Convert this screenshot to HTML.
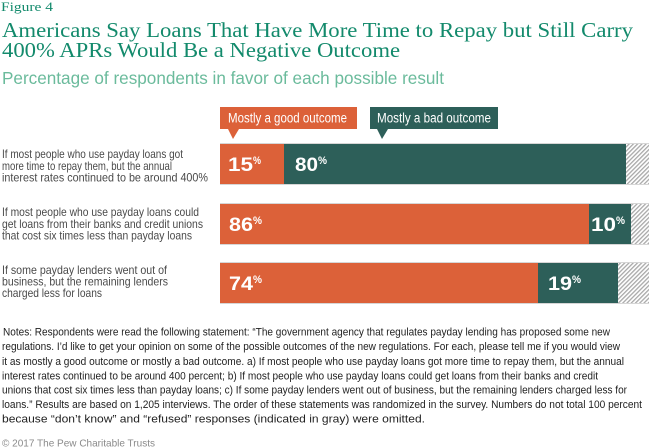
<!DOCTYPE html>
<html>
<head>
<meta charset="utf-8">
<style>
html,body{margin:0;padding:0;background:#fff;}
svg{display:block;}
.lab{font-family:"Liberation Sans Narrow","Liberation Sans",sans-serif;font-size:11.8px;fill:#4a4a4a;}
.note{font-family:"Liberation Sans Narrow","Liberation Sans",sans-serif;font-size:11.2px;fill:#222;}
.num{font-family:"Liberation Sans",sans-serif;font-weight:bold;font-size:19.5px;fill:#fff;}
.pct{font-family:"Liberation Sans",sans-serif;font-weight:bold;font-size:11px;fill:#fff;}
.leg{font-family:"Liberation Sans Narrow","Liberation Sans",sans-serif;font-size:13.5px;fill:#fff;}
</style>
</head>
<body>
<svg width="650" height="448" viewBox="0 0 650 448" xmlns="http://www.w3.org/2000/svg">
<defs>
<pattern id="hatch" patternUnits="userSpaceOnUse" width="3" height="3" patternTransform="rotate(-45)">
<rect width="3" height="3" fill="#fff"/>
<rect width="3" height="1.3" fill="#a8a8a8"/>
</pattern>
</defs>

<!-- Header -->
<text x="1" y="11" font-family="Liberation Serif, serif" font-size="13" fill="#138a6c" textLength="52" lengthAdjust="spacingAndGlyphs">Figure 4</text>
<text x="2" y="37" font-family="Liberation Serif, serif" font-size="21" fill="#138a6c" textLength="631" lengthAdjust="spacingAndGlyphs">Americans Say Loans That Have More Time to Repay but Still Carry</text>
<text x="2" y="57" font-family="Liberation Serif, serif" font-size="21" fill="#138a6c" textLength="398" lengthAdjust="spacingAndGlyphs">400% APRs Would Be a Negative Outcome</text>
<text x="2" y="84" font-family="Liberation Sans Narrow, Liberation Sans, sans-serif" font-size="17.5" fill="#6bbb9c" textLength="442" lengthAdjust="spacingAndGlyphs">Percentage of respondents in favor of each possible result</text>

<!-- Legend -->
<rect x="220" y="107" width="137" height="22" fill="#dc6139"/>
<polygon points="228,129 239,129 233,139" fill="#dc6139"/>
<text x="228" y="122.5" class="leg" textLength="119" lengthAdjust="spacingAndGlyphs">Mostly a good outcome</text>
<rect x="370" y="107" width="128" height="22" fill="#2d5f59"/>
<polygon points="377,129 388,129 382,139" fill="#2d5f59"/>
<text x="377" y="122.5" class="leg" textLength="114" lengthAdjust="spacingAndGlyphs">Mostly a bad outcome</text>

<!-- Bar 1 -->
<rect x="220" y="143" width="429" height="42" fill="#d6d6d6"/>
<rect x="220" y="144" width="64" height="40" fill="#dc6139"/>
<rect x="284" y="144" width="342" height="40" fill="#2d5f59"/>
<rect x="626" y="144" width="23" height="40" fill="url(#hatch)"/>
<text x="228" y="171" class="num" textLength="25" lengthAdjust="spacingAndGlyphs">15</text>
<text x="253" y="164" class="pct" textLength="8" lengthAdjust="spacingAndGlyphs">%</text>
<text x="295" y="171" class="num" textLength="23" lengthAdjust="spacingAndGlyphs">80</text>
<text x="318" y="164" class="pct" textLength="9" lengthAdjust="spacingAndGlyphs">%</text>

<!-- Bar 2 -->
<rect x="220" y="203" width="429" height="42" fill="#d6d6d6"/>
<rect x="220" y="204" width="369" height="40" fill="#dc6139"/>
<rect x="589" y="204" width="42" height="40" fill="#2d5f59"/>
<rect x="631" y="204" width="18" height="40" fill="url(#hatch)"/>
<text x="229" y="231" class="num" textLength="24" lengthAdjust="spacingAndGlyphs">86</text>
<text x="253" y="224" class="pct" textLength="9" lengthAdjust="spacingAndGlyphs">%</text>
<text x="591" y="231" class="num" textLength="25" lengthAdjust="spacingAndGlyphs">10</text>
<text x="616" y="224" class="pct" textLength="9" lengthAdjust="spacingAndGlyphs">%</text>

<!-- Bar 3 -->
<rect x="220" y="262" width="429" height="42" fill="#d6d6d6"/>
<rect x="220" y="263" width="318" height="40" fill="#dc6139"/>
<rect x="538" y="263" width="80" height="40" fill="#2d5f59"/>
<rect x="618" y="263" width="31" height="40" fill="url(#hatch)"/>
<text x="229" y="290" class="num" textLength="24" lengthAdjust="spacingAndGlyphs">74</text>
<text x="253" y="283" class="pct" textLength="9" lengthAdjust="spacingAndGlyphs">%</text>
<text x="548" y="290" class="num" textLength="24" lengthAdjust="spacingAndGlyphs">19</text>
<text x="572" y="283" class="pct" textLength="9" lengthAdjust="spacingAndGlyphs">%</text>

<!-- Row labels -->
<text x="2" y="158" class="lab" textLength="181" lengthAdjust="spacingAndGlyphs">If most people who use payday loans got</text>
<text x="2" y="170" class="lab" textLength="170" lengthAdjust="spacingAndGlyphs">more time to repay them, but the annual</text>
<text x="2" y="181.5" class="lab" textLength="206" lengthAdjust="spacingAndGlyphs">interest rates continued to be around 400%</text>

<text x="2" y="216" class="lab" textLength="197" lengthAdjust="spacingAndGlyphs">If most people who use payday loans could</text>
<text x="2" y="228" class="lab" textLength="201" lengthAdjust="spacingAndGlyphs">get loans from their banks and credit unions</text>
<text x="2" y="239.5" class="lab" textLength="190" lengthAdjust="spacingAndGlyphs">that cost six times less than payday loans</text>

<text x="2" y="274" class="lab" textLength="165" lengthAdjust="spacingAndGlyphs">If some payday lenders went out of</text>
<text x="2" y="285.5" class="lab" textLength="166" lengthAdjust="spacingAndGlyphs">business, but the remaining lenders</text>
<text x="2" y="297" class="lab" textLength="100" lengthAdjust="spacingAndGlyphs">charged less for loans</text>

<!-- Notes -->
<text x="3" y="335.5" class="note" textLength="607" lengthAdjust="spacingAndGlyphs">Notes: Respondents were read the following statement: “The government agency that regulates payday lending has proposed some new</text>
<text x="2" y="350" class="note" textLength="618" lengthAdjust="spacingAndGlyphs">regulations. I’d like to get your opinion on some of the possible outcomes of the new regulations. For each, please tell me if you would view</text>
<text x="2" y="365" class="note" textLength="622" lengthAdjust="spacingAndGlyphs">it as mostly a good outcome or mostly a bad outcome. a) If most people who use payday loans got more time to repay them, but the annual</text>
<text x="2" y="379.5" class="note" textLength="596" lengthAdjust="spacingAndGlyphs">interest rates continued to be around 400 percent; b) If most people who use payday loans could get loans from their banks and credit</text>
<text x="2" y="393.5" class="note" textLength="625" lengthAdjust="spacingAndGlyphs">unions that cost six times less than payday loans; c) If some payday lenders went out of business, but the remaining lenders charged less for</text>
<text x="2" y="408" class="note" textLength="640" lengthAdjust="spacingAndGlyphs">loans.” Results are based on 1,205 interviews. The order of these statements was randomized in the survey. Numbers do not total 100 percent</text>
<text x="2" y="422.5" class="note" textLength="423" lengthAdjust="spacingAndGlyphs">because “don’t know” and “refused” responses (indicated in gray) were omitted.</text>

<text x="2" y="446.5" font-family="Liberation Sans, sans-serif" font-size="10.5" fill="#8a8a8a" textLength="153" lengthAdjust="spacingAndGlyphs">© 2017 The Pew Charitable Trusts</text>
</svg>
</body>
</html>
